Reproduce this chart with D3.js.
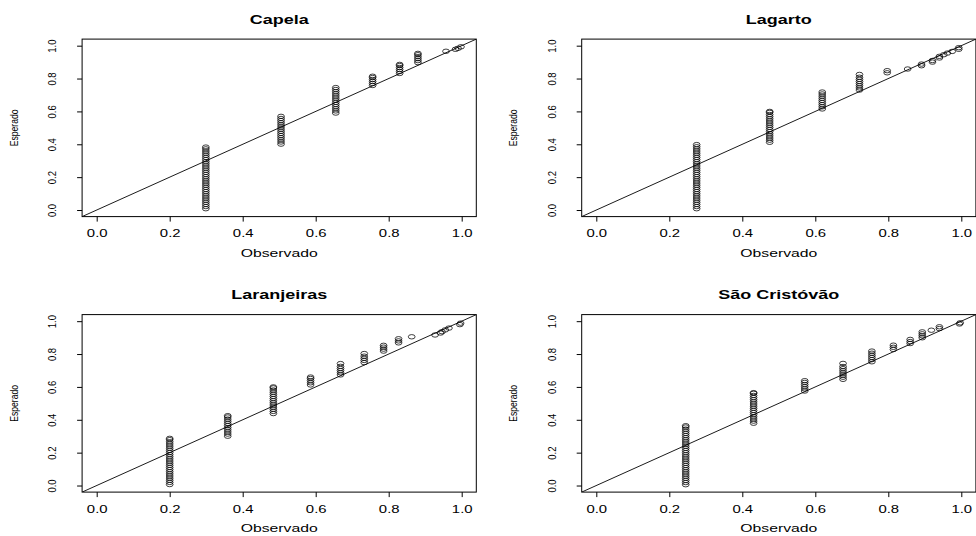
<!DOCTYPE html>
<html>
<head>
<meta charset="utf-8">
<script src="https://cdn.jsdelivr.net/npm/d3@7"></script>
<style>
  body { margin: 0; background: #fff; }
  text { font-family: "Liberation Sans", Arial, sans-serif; fill: #000; }
</style>
</head>
<body>
<div id="chart"></div>
<script>
// ----------------------------------------------------------------- DATA ----------------------------------------------------------- //
const titles = ["Capela", "Lagarto", "Laranjeiras", "São Cristóvão"];
const tickValues = [0, 0.2, 0.4, 0.6, 0.8, 1.0];

// Observado (x) for every stack, Esperado (y) values of that stack
const capelaObs = [0.299, 0.505, 0.655, 0.756, 0.830, 0.880, 0.957, 0.983, 0.990, 0.998];
const capelaEsp = [
  [0.008, 0.021, 0.034, 0.047, 0.060, 0.073, 0.086, 0.099, 0.112, 0.125, 0.138, 0.151, 0.164, 0.177, 0.190,
   0.203, 0.216, 0.229, 0.242, 0.255, 0.268, 0.281, 0.294, 0.307, 0.320, 0.333, 0.346, 0.359, 0.372, 0.383],
  [0.401, 0.414, 0.427, 0.440, 0.453, 0.466, 0.479, 0.492, 0.505, 0.518, 0.531, 0.544, 0.557, 0.570],
  [0.590, 0.603, 0.616, 0.629, 0.642, 0.655, 0.668, 0.681, 0.694, 0.707, 0.720, 0.733, 0.745],
  [0.758, 0.770, 0.782, 0.794, 0.806, 0.814],
  [0.831, 0.843, 0.855, 0.867, 0.879, 0.886],
  [0.897, 0.909, 0.921, 0.933, 0.945, 0.953],
  [0.966], [0.978], [0.984], [0.993]
];

const lagartoObs = [0.275, 0.475, 0.619, 0.721, 0.797, 0.853, 0.891, 0.921, 0.940, 0.952, 0.962, 0.975, 0.993];
const lagartoEsp = [
  [0.008, 0.021, 0.034, 0.047, 0.060, 0.073, 0.086, 0.099, 0.112, 0.125, 0.138, 0.151, 0.164, 0.177, 0.190, 0.203,
   0.216, 0.229, 0.242, 0.255, 0.268, 0.281, 0.294, 0.307, 0.320, 0.333, 0.346, 0.359, 0.372, 0.385, 0.398],
  [0.412, 0.425, 0.438, 0.451, 0.464, 0.477, 0.490, 0.503, 0.516, 0.529, 0.542, 0.555, 0.568, 0.581, 0.594, 0.600],
  [0.615, 0.628, 0.641, 0.654, 0.667, 0.680, 0.693, 0.706, 0.718],
  [0.730, 0.743, 0.756, 0.769, 0.782, 0.795, 0.808, 0.825],
  [0.835, 0.848], [0.858], [0.878, 0.888], [0.900, 0.910], [0.925, 0.935], [0.945], [0.955], [0.965], [0.978, 0.988]
];

const laranjeirasObs = [0.200, 0.359, 0.484, 0.586, 0.668, 0.733, 0.786, 0.827, 0.863, 0.927, 0.942, 0.946, 0.955, 0.965, 0.995, 0.997];
const laranjeirasEsp = [
  [0.006, 0.019, 0.032, 0.045, 0.058, 0.071, 0.084, 0.097, 0.110, 0.123, 0.136, 0.149, 0.162, 0.175, 0.188,
   0.201, 0.214, 0.227, 0.240, 0.253, 0.266, 0.279, 0.287],
  [0.300, 0.313, 0.326, 0.339, 0.352, 0.365, 0.378, 0.391, 0.404, 0.417, 0.425],
  [0.438, 0.451, 0.464, 0.477, 0.490, 0.503, 0.516, 0.529, 0.542, 0.555, 0.568, 0.581, 0.594, 0.600],
  [0.612, 0.625, 0.638, 0.651, 0.660],
  [0.673, 0.686, 0.699, 0.712, 0.725, 0.742],
  [0.748, 0.761, 0.774, 0.787, 0.803],
  [0.818, 0.830, 0.842, 0.853],
  [0.868, 0.880, 0.893],
  [0.905], [0.916], [0.928], [0.936], [0.947], [0.958], [0.979], [0.988]
];

const saoCristovaoObs = [0.245, 0.431, 0.571, 0.676, 0.755, 0.814, 0.860, 0.893, 0.918, 0.940, 0.995, 0.997];
const saoCristovaoEsp = [
  [0.005, 0.018, 0.031, 0.044, 0.057, 0.070, 0.083, 0.096, 0.109, 0.122, 0.135, 0.148, 0.161, 0.174, 0.187,
   0.200, 0.213, 0.226, 0.239, 0.252, 0.265, 0.278, 0.291, 0.304, 0.317, 0.330, 0.343, 0.356, 0.364],
  [0.379, 0.392, 0.405, 0.418, 0.431, 0.444, 0.457, 0.470, 0.483, 0.496, 0.509, 0.522, 0.535, 0.548, 0.561, 0.565],
  [0.575, 0.588, 0.601, 0.614, 0.627, 0.638],
  [0.646, 0.659, 0.672, 0.685, 0.698, 0.711, 0.724, 0.743],
  [0.753, 0.766, 0.779, 0.792, 0.805, 0.818],
  [0.828, 0.841, 0.854],
  [0.864, 0.876, 0.889],
  [0.899, 0.911, 0.923, 0.935],
  [0.945], [0.955, 0.966], [0.983], [0.990]
];

const panels = [
  {title: titles[0], obs: capelaObs, esp: capelaEsp},
  {title: titles[1], obs: lagartoObs, esp: lagartoEsp},
  {title: titles[2], obs: laranjeirasObs, esp: laranjeirasEsp},
  {title: titles[3], obs: saoCristovaoObs, esp: saoCristovaoEsp}
];

// ----------------------------------------------------------------- LAYOUT --------------------------------------------------------- //
const width = 976, height = 536;
const colRange = [[82.1, 476.3], [581.7, 975.9]];
const rowRange = [[216.6, 39.1], [492.1, 314.6]];
const domain = [-0.04, 1.04];

const svg = d3.select("#chart")
  .append("svg")
  .attr("width", width)
  .attr("height", height);

panels.forEach(function (p, i) {
  const col = i % 2, row = Math.floor(i / 2);
  const x = d3.scaleLinear().domain(domain).range(colRange[col]);
  const y = d3.scaleLinear().domain(domain).range(rowRange[row]);
  const left = x.range()[0], right = x.range()[1];
  const top = y.range()[1], bottom = y.range()[0];
  const cx = (left + right) / 2, cy = (top + bottom) / 2;

  const g = svg.append("g");

  g.append("clipPath").attr("id", "clip" + i)
    .append("rect")
    .attr("x", left).attr("y", top)
    .attr("width", right - left).attr("height", bottom - top);

  // reference line y = x
  g.append("line")
    .attr("clip-path", "url(#clip" + i + ")")
    .attr("x1", x(domain[0])).attr("y1", y(domain[0]))
    .attr("x2", x(domain[1])).attr("y2", y(domain[1]))
    .attr("stroke", "#000")
    .attr("stroke-width", 0.9);

  // points
  const pts = [];
  p.obs.forEach(function (o, k) {
    p.esp[k].forEach(function (e) { pts.push({x: o, y: e}); });
  });

  g.selectAll("ellipse")
    .data(pts)
    .enter()
    .append("ellipse")
    .attr("cx", d => x(d.x))
    .attr("cy", d => y(d.y))
    .attr("rx", 3.4)
    .attr("ry", 2.2)
    .attr("fill", "none")
    .attr("stroke", "#000")
    .attr("stroke-width", 0.75);

  // box
  g.append("rect")
    .attr("x", left).attr("y", top)
    .attr("width", right - left).attr("height", bottom - top)
    .attr("fill", "none")
    .attr("stroke", "#000")
    .attr("stroke-width", 1);

  // x axis
  const xAxis = g.append("g")
    .attr("transform", "translate(0," + bottom + ")")
    .call(d3.axisBottom(x).tickValues(tickValues).tickFormat(d3.format(".1f")).tickSize(5).tickSizeOuter(0));
  xAxis.select(".domain").remove();
  xAxis.selectAll("line").attr("stroke", "#000");
  xAxis.selectAll("text")
    .attr("y", 20.7).attr("dy", null)
    .attr("font-size", 10.5)
    .attr("font-family", "Liberation Sans, Arial, sans-serif")
    .attr("fill", "#000")
    .attr("transform", "scale(1.42,1)");

  // y axis
  const yAxis = g.append("g")
    .attr("transform", "translate(" + left + ",0)")
    .call(d3.axisLeft(y).tickValues(tickValues).tickFormat(d3.format(".1f")).tickSize(5).tickSizeOuter(0));
  yAxis.select(".domain").remove();
  yAxis.selectAll("line").attr("stroke", "#000");
  yAxis.selectAll("text")
    .attr("x", null).attr("dy", null).attr("y", null)
    .attr("text-anchor", "middle")
    .attr("font-size", 10.5)
    .attr("font-family", "Liberation Sans, Arial, sans-serif")
    .attr("fill", "#000")
    .attr("transform", "translate(-26,0) rotate(-90) scale(0.9,1)");

  // titles and axis labels
  g.append("text")
    .attr("transform", "translate(" + cx + "," + (top - 15.6) + ") scale(1.5,1)")
    .attr("text-anchor", "middle")
    .attr("font-size", 12)
    .attr("font-weight", "bold")
    .text(p.title);

  g.append("text")
    .attr("transform", "translate(" + cx + "," + (bottom + 40) + ") scale(1.5,1)")
    .attr("text-anchor", "middle")
    .attr("font-size", 10.5)
    .text("Observado");

  g.append("text")
    .attr("transform", "translate(" + (left - 64.5) + "," + cy + ") rotate(-90) scale(0.82,1)")
    .attr("text-anchor", "middle")
    .attr("font-size", 10.5)
    .text("Esperado");
});
</script>
</body>
</html>
